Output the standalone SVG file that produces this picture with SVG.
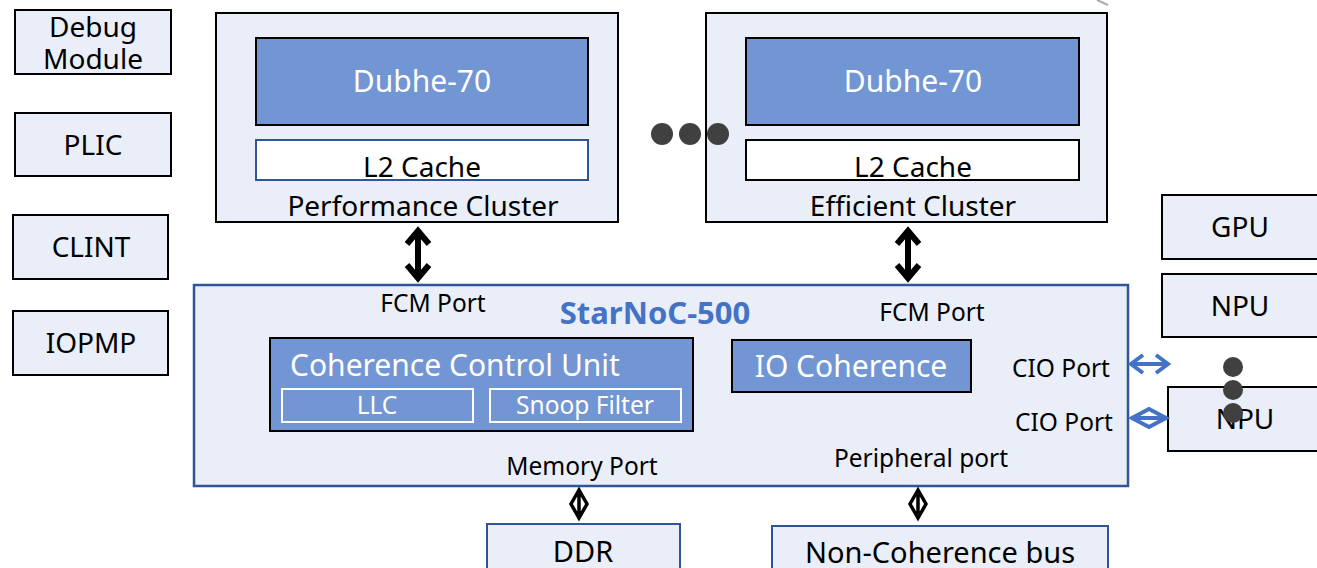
<svg xmlns="http://www.w3.org/2000/svg" width="1317" height="568" viewBox="0 0 1317 568">
<style>
.box{fill:#e9eef8;stroke:#000;stroke-width:2}
.core{fill:#7295d3;stroke:#000;stroke-width:2}
.blk{fill:none;stroke:#000;stroke-width:6;stroke-linecap:butt;stroke-linejoin:miter}
.blu{fill:none;stroke:#4472c4;stroke-width:4;stroke-linejoin:miter}
text{font-family:"Noto Sans","Open Sans",sans-serif;text-anchor:middle;fill:#000}
.t26{font-size:28px}
.t22{font-size:24.5px}
.t30{font-size:30px}
.w{fill:#fff}
.dot{fill:#404040}
</style>
<rect width="1317" height="568" fill="#fff"/>
<line x1="1097" y1="0" x2="1108" y2="5" stroke="#aaa" stroke-width="2"/>

<g id="debug"><rect class="box" x="15" y="10" width="156" height="64"/><text class="t26"><tspan x="93" y="37">Debug</tspan><tspan x="93" y="69">Module</tspan></text></g>
<g id="plic"><rect class="box" x="15" y="113" width="156" height="63"/><text class="t26" x="93" y="155">PLIC</text></g>
<g id="clint"><rect class="box" x="13" y="215" width="155" height="64"/><text class="t26" x="91" y="257">CLINT</text></g>
<g id="iopmp"><rect class="box" x="13" y="311" width="155" height="64"/><text class="t26" x="91" y="353">IOPMP</text></g>

<g id="perf">
<rect class="box" x="216" y="13" width="402" height="209"/>
<rect class="core" x="256" y="38" width="332" height="87"/>
<text class="t30 w" x="422" y="92">Dubhe-70</text>
<rect x="256" y="140" width="332" height="40" fill="#fff" stroke="#2f5597" stroke-width="2"/>
<text class="t26" x="422" y="177">L2 Cache</text>
<text class="t26" x="423" y="216">Performance Cluster</text>
</g>

<g id="eff">
<rect class="box" x="706" y="13" width="401" height="209"/>
<rect class="core" x="746" y="38" width="333" height="87"/>
<text class="t30 w" x="913" y="92">Dubhe-70</text>
<rect x="746" y="140" width="333" height="40" fill="#fff" stroke="#000" stroke-width="2"/>
<text class="t26" x="913" y="177">L2 Cache</text>
<text class="t26" x="913" y="216">Efficient Cluster</text>
</g>

<g id="dots"><circle class="dot" cx="662" cy="134" r="11"/><circle class="dot" cx="690" cy="134" r="11"/><circle class="dot" cx="718" cy="134" r="11"/></g>

<g id="starnoc">
<rect x="194" y="285" width="934" height="201" fill="#e9eef8" stroke="#2f5597" stroke-width="2.5"/>
<text class="t22" x="433" y="312">FCM Port</text>
<text x="655" y="324" style="font-size:31px;font-weight:bold;fill:#4472c4">StarNoC-500</text>
<text class="t22" x="932" y="321">FCM Port</text>
<text class="t22" x="1061" y="377">CIO Port</text>
<text class="t22" x="1064" y="431">CIO Port</text>
<text class="t22" x="582" y="475">Memory Port</text>
<text class="t22" x="921" y="467">Peripheral port</text>
</g>

<g id="ccu">
<rect class="core" x="270" y="338" width="423" height="93"/>
<text class="t30 w" x="290" y="376" style="text-anchor:start">Coherence Control Unit</text>
<rect x="282" y="389" width="191" height="33" fill="none" stroke="#fff" stroke-width="2"/>
<text class="t22 w" x="377" y="414">LLC</text>
<rect x="490" y="389" width="191" height="33" fill="none" stroke="#fff" stroke-width="2"/>
<text class="t22 w" x="585" y="414">Snoop Filter</text>
</g>

<g id="ioc">
<rect class="core" x="732" y="340" width="239" height="52"/>
<text class="t30 w" x="851" y="377">IO Coherence</text>
</g>

<g id="gpu"><rect class="box" x="1162" y="195" width="160" height="64"/><text class="t26" x="1240" y="237">GPU</text></g>
<g id="npu1"><rect class="box" x="1162" y="274" width="160" height="63"/><text class="t26" x="1240" y="316">NPU</text></g>
<g id="npu2"><rect class="box" x="1168" y="387" width="154" height="64"/><text class="t26" x="1245" y="429">NPU</text></g>
<g id="vdots"><circle class="dot" cx="1233" cy="367" r="10"/><circle class="dot" cx="1233" cy="390" r="10"/><circle class="dot" cx="1233" cy="413" r="10"/></g>

<g id="ddr"><rect x="487" y="524" width="193" height="50" fill="#e9eef8" stroke="#2f5597" stroke-width="2"/><text class="t26" x="583" y="562" style="font-size:29px">DDR</text></g>
<g id="ncb"><rect x="772" y="526" width="336" height="50" fill="#e9eef8" stroke="#2f5597" stroke-width="2"/><text class="t26" x="940" y="563" style="font-size:29px">Non-Coherence bus</text></g>

<g id="connectors">
<g class="blk">
<path d="M418 234 V275 M407 244 L418 231 L429 244 M407 265 L418 278 L429 265"/>
<path d="M908 234 V275 M897 244 L908 231 L919 244 M897 265 L908 278 L919 265"/>
<path d="M579 490 L571 504 L579 518 L587 504 Z M579 494 V514" stroke-width="3.5"/>
<path d="M918 490 L910 504 L918 518 L926 504 Z M918 494 V514" stroke-width="3.5"/>
</g>
<g class="blu">
<path d="M1131 364 H1166 M1143 355 L1131 364 L1143 373 M1156 355 L1168 364 L1156 373"/>
<path d="M1132 418 L1149 409 L1166 418 L1149 427 Z M1132 418 H1166"/>
</g>
</g>
</svg>
